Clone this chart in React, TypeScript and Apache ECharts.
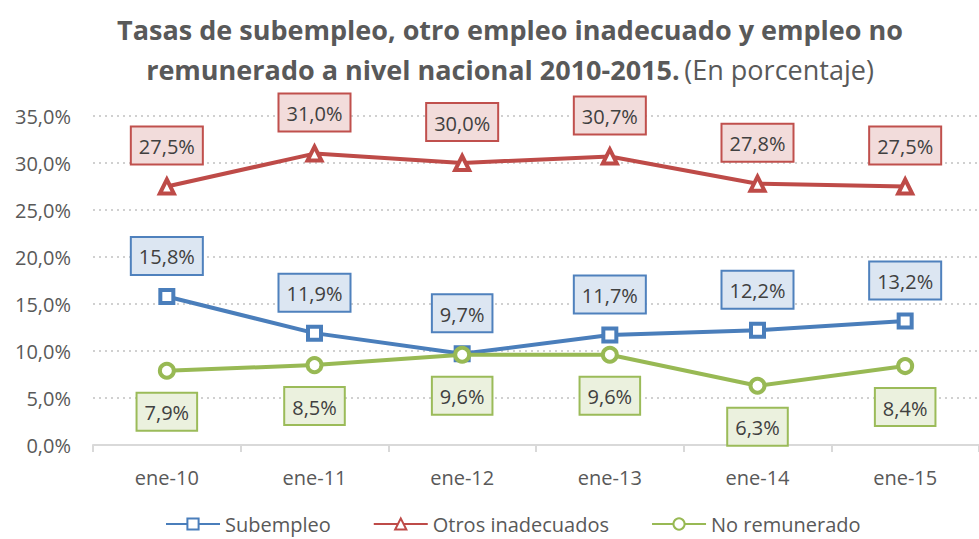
import React, { useEffect, useRef } from "react";
import * as echarts from "echarts";

const categories = ["ene-10", "ene-11", "ene-12", "ene-13", "ene-14", "ene-15"];
const subempleo = [15.8, 11.9, 9.7, 11.7, 12.2, 13.2];
const otros = [27.5, 31.0, 30.0, 30.7, 27.8, 27.5];
const noRemunerado = [7.9, 8.5, 9.6, 9.6, 6.3, 8.4];
const seriesNames = ["Subempleo", "Otros inadecuados", "No remunerado"];

const FONT = "'Open Sans', sans-serif";
const fmt = (v: number) => v.toFixed(1).replace(".", ",") + "%";

export default function App() {
  const ref = useRef<HTMLDivElement>(null);
  useEffect(() => {
    if (!ref.current) return;
    const chart = echarts.init(ref.current, null, { renderer: "svg" });
    const label = (pos: string, border: string, bg: string) => ({
      show: true,
      position: pos,
      distance: 14,
      formatter: (p: any) => fmt(p.value),
      color: "#404040",
      fontSize: 20,
      lineHeight: 22,
      fontFamily: FONT,
      backgroundColor: bg,
      borderColor: border,
      borderWidth: 2,
      padding: [8, 7, 6, 7],
    });
    chart.setOption({
      animation: false,
      textStyle: { fontFamily: FONT },
      title: {
        text: "{b|Tasas de subempleo, otro empleo inadecuado y empleo no}\n{b|remunerado a nivel nacional 2010-2015.} {n|(En porcentaje)}",
        left: 505,
        textAlign: "center",
        top: 4,
        textStyle: {
          rich: {
            b: { fontSize: 27, fontWeight: "bold", color: "#595959", fontFamily: FONT, lineHeight: 40 },
            n: { fontSize: 27, fontWeight: "normal", color: "#595959", fontFamily: FONT, lineHeight: 40 },
          },
        },
      },
      legend: {
        bottom: 0,
        left: 160,
        itemWidth: 54,
        itemHeight: 14,
        itemGap: 42,
        textStyle: { fontSize: 20, color: "#595959", fontFamily: FONT },
        data: seriesNames,
      },
      grid: { left: 93, top: 116, width: 894, height: 329, containLabel: false },
      xAxis: {
        type: "category",
        data: categories,
        boundaryGap: true,
        axisLine: { lineStyle: { color: "#d9d9d9", width: 2 } },
        axisTick: { show: true, length: 7, lineStyle: { color: "#d9d9d9", width: 2 } },
        axisLabel: { fontSize: 20, color: "#595959", margin: 22, fontFamily: FONT },
      },
      yAxis: {
        type: "value",
        min: 0,
        max: 35,
        interval: 5,
        axisLine: { show: false },
        axisTick: { show: false },
        axisLabel: { fontSize: 20, color: "#595959", margin: 22, fontFamily: FONT, formatter: (v: number) => fmt(v) },
        splitLine: { lineStyle: { color: "#d0d0d0", type: [2, 4], width: 2 } },
      },
      series: [
        {
          name: seriesNames[0],
          type: "line",
          data: subempleo,
          symbol: "rect",
          symbolSize: 13,
          itemStyle: { color: "#ffffff", borderColor: "#4a7ebb", borderWidth: 4 },
          lineStyle: { color: "#4a7ebb", width: 4 },
          label: label("top", "#4f81bd", "#dce6f2"),
          z: 3,
        },
        {
          name: seriesNames[1],
          type: "line",
          data: otros,
          symbol: "triangle",
          symbolSize: 14,
          itemStyle: { color: "#ffffff", borderColor: "#be4b48", borderWidth: 4 },
          lineStyle: { color: "#be4b48", width: 4 },
          label: label("top", "#c0504d", "#f2dcdb"),
          z: 3,
        },
        {
          name: seriesNames[2],
          type: "line",
          data: noRemunerado,
          symbol: "circle",
          symbolSize: 14,
          itemStyle: { color: "#ffffff", borderColor: "#98b954", borderWidth: 4 },
          lineStyle: { color: "#98b954", width: 4 },
          label: label("bottom", "#9bbb59", "#ebf1de"),
          z: 4,
        },
      ],
    });
    return () => chart.dispose();
  }, []);
  return <div ref={ref} style={{ width: 979, height: 539, position: "absolute", left: 0, top: 0 }} />;
}
